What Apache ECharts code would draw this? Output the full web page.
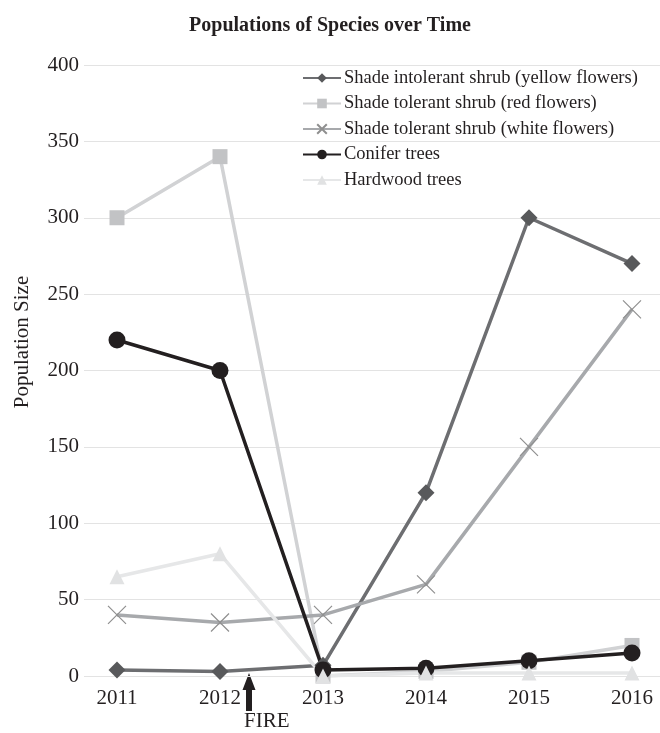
<!DOCTYPE html>
<html><head><meta charset="utf-8">
<script src="https://cdn.jsdelivr.net/npm/echarts@6/dist/echarts.min.js"></script>
<style>html,body{margin:0;padding:0;background:#fff}#c{width:660px;height:733px}</style>
</head><body><div id="c"></div>
<script>
const years = ['2011','2012','2013','2014','2015','2016'];
const yellowShrub = [4, 3, 7, 120, 300, 270];
const redShrub = [300, 340, 0, 3, 9, 20];
const whiteShrub = [40, 35, 40, 60, 150, 240];
const conifer = [220, 200, 4, 5, 10, 15];
const hardwood = [65, 80, 0, 2, 2, 2];
const names = ['Shade intolerant shrub (yellow flowers)','Shade tolerant shrub (red flowers)','Shade tolerant shrub (white flowers)','Conifer trees','Hardwood trees'];

const serif = '"Liberation Serif","DejaVu Serif",serif';
const chart = echarts.init(document.getElementById('c'));
const mk = (name, data, lineColor, markColor, symbol, size, lw, extra) => Object.assign({
  name, type:'line', data, xAxisIndex:1, yAxisIndex:1,
  symbol, symbolSize:size, showSymbol:true,
  lineStyle:{color:lineColor, width:lw},
  itemStyle:{color:markColor},
  emphasis:{disabled:true}, animation:false
}, extra||{});

chart.setOption({
  animation:false,
  title:{text:'Populations of Species over Time', left:'center', top:11,
    textStyle:{fontFamily:serif, fontWeight:'bold', fontSize:20, color:'#231f20'}},
  grid:[
    {left:84, right:0, top:65, bottom:57},
    {left:117, right:28, top:65, bottom:57}
  ],
  xAxis:[
    {gridIndex:0, type:'value', show:false, min:0, max:1},
    {gridIndex:1, type:'category', data:years, boundaryGap:false,
      axisLine:{show:false}, axisTick:{show:false},
      axisLabel:{fontFamily:serif, fontSize:21, color:'#231f20', margin:12}}
  ],
  yAxis:[
    {gridIndex:0, type:'value', min:0, max:400, interval:50,
      axisLine:{show:false}, axisTick:{show:false},
      axisLabel:{fontFamily:serif, fontSize:21, color:'#231f20', margin:5},
      splitLine:{lineStyle:{color:'#e3e3e3', width:1}}},
    {gridIndex:1, type:'value', min:0, max:400, interval:50, show:false, splitLine:{show:false}}
  ],
  legend:{
    data:names, orient:'vertical', left:302, top:68, padding:0, itemWidth:38, itemHeight:12, itemGap:5.5,
    textStyle:{fontFamily:serif, fontSize:18.5, lineHeight:20, color:'#231f20', padding:[0,0,0,-2]}
  },
  graphic:[
    {type:'text', x:22, y:342, rotation:Math.PI/2, style:{text:'Population Size', font:'21px '+serif, fill:'#231f20', textAlign:'center', textVerticalAlign:'middle'}},
    {type:'polygon', shape:{points:[[249,673],[242.5,690],[246,690],[246,711],[252,711],[252,690],[255.5,690]]}, style:{fill:'#231f20'}},
    {type:'text', x:244, y:711, style:{text:'FIRE', font:'21px '+serif, fill:'#231f20', textAlign:'left', textVerticalAlign:'top'}}
  ],
  series:[
    mk(names[0], yellowShrub, '#6d6e71', '#58595b', 'diamond', 17, 3.5),
    mk(names[1], redShrub, '#d1d2d4', '#c2c3c5', 'rect', 15, 3.5),
    mk(names[2], whiteShrub, '#a7a9ac', '#9a9a9a', 'path://M0,0L10,10M10,0L0,10', 18, 3.5,
       {itemStyle:{color:'#9a9a9a', borderColor:'#8f8f8f', borderWidth:1.2}}),
    mk(names[3], conifer, '#231f20', '#231f20', 'circle', 17, 3.5),
    mk(names[4], hardwood, '#e6e7e8', '#e1e2e3', 'triangle', 15, 3.5)
  ]
});
</script></body></html>
